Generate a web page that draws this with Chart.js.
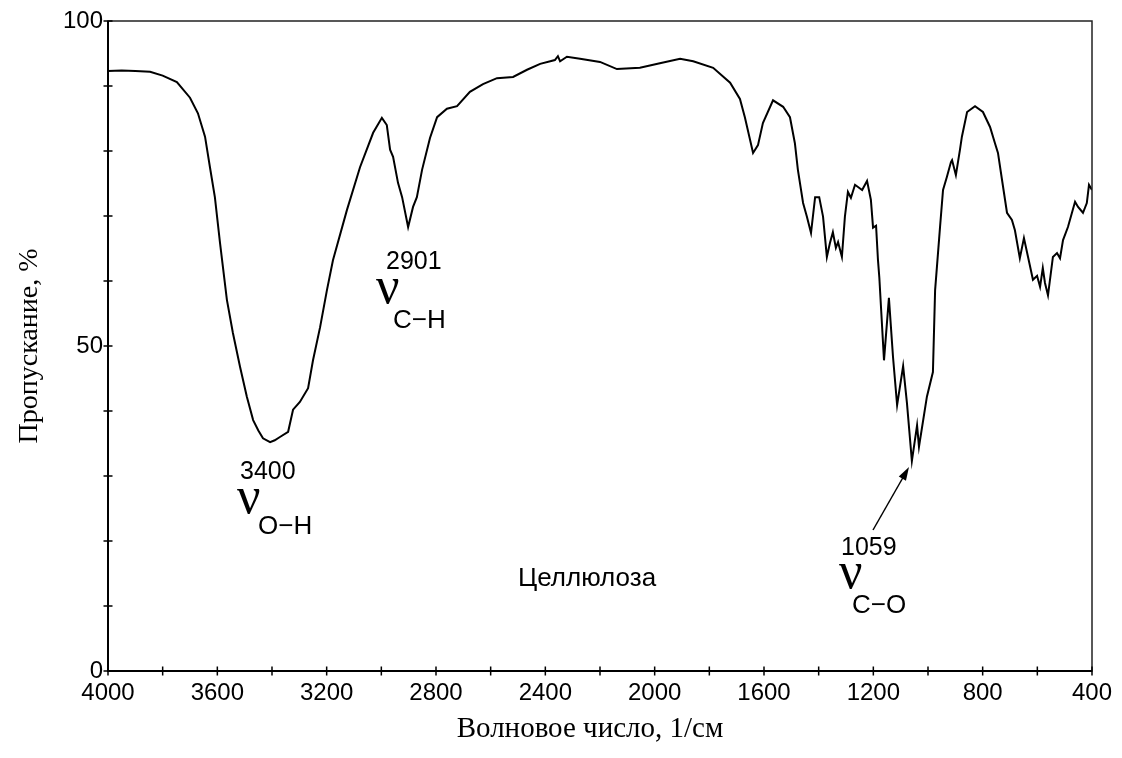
<!DOCTYPE html>
<html>
<head>
<meta charset="utf-8">
<script src="https://cdn.jsdelivr.net/npm/chart.js@4.4.1/dist/chart.umd.min.js"></script>
<style>
html,body{margin:0;padding:0;background:#fff;}
#wrap{width:1122px;height:758px;position:relative;}
</style>
</head>
<body>
<div id="wrap"><canvas id="c" width="1122" height="758"></canvas></div>
<script>
// Wavenumbers (1/cm)
const wavenumbers = [4000,3950,3900,3846,3800,3748,3700,3671,3645,3627,3609,3590,3565,3543,3517,3492,3469,3450,3433,3407,3390,3371,3341,3323,3298,3268,3250,3224,3199,3177,3126,3078,3030,2998,2980,2968,2957,2939,2924,2902,2884,2870,2851,2822,2796,2760,2723,2676,2628,2577,2518,2467,2419,2365,2354,2346,2321,2273,2200,2138,2054,1981,1907,1859,1786,1724,1688,1670,1640,1622,1604,1567,1530,1505,1487,1476,1457,1443,1428,1413,1398,1384,1370,1359,1348,1337,1329,1315,1304,1293,1282,1267,1241,1223,1209,1201,1190,1183,1178,1172,1161,1143,1128,1113,1091,1077,1059,1040,1033,1004,982,974,956,945,931,916,912,898,883,876,857,828,799,773,755,744,729,711,693,682,664,649,634,616,601,590,580,572,561,543,528,517,506,488,462,451,433,419,411,400];
// Transmittance (%)
const transmittance = [92.3,92.4,92.3,92.2,91.6,90.6,88.2,85.8,82.2,77.5,72.9,65.8,57.1,52.0,46.8,42.2,38.6,37.0,35.8,35.2,35.5,36.0,36.8,40.2,41.4,43.5,47.8,52.9,58.6,63.2,70.9,77.5,82.8,85.1,84.0,80.2,79.1,75.1,72.9,68.3,71.4,72.9,77.1,82.0,85.2,86.5,86.9,89.1,90.3,91.2,91.4,92.5,93.4,94.0,94.6,93.8,94.5,94.2,93.7,92.6,92.8,93.5,94.2,93.8,92.8,90.5,88.0,85.2,79.7,80.9,84.3,87.8,86.8,85.2,81.2,77.1,72.0,69.9,67.4,72.9,72.9,69.9,63.7,65.8,67.5,65.1,66.0,63.7,69.9,73.7,72.8,74.8,74.0,75.4,72.5,68.2,68.5,63.2,60.5,56.0,47.8,57.4,48.3,40.9,46.9,41.2,32.3,37.8,34.5,42.2,46.0,58.6,68.3,74.0,76.0,78.3,78.6,76.3,80.2,82.2,86.0,86.9,86.0,83.7,81.2,79.7,75.5,70.5,69.4,67.8,63.5,66.6,63.7,60.2,60.8,59.1,62.0,59.7,57.8,63.7,64.3,63.5,66.3,68.3,72.2,71.4,70.5,72.0,74.8,74.0];
const xTickLabels = [4000,3600,3200,2800,2400,2000,1600,1200,800,400];
const yTickLabels = [0,50,100];
const xTitle = 'Волновое число, 1/см';
const yTitle = 'Пропускание, %';
const sampleName = 'Целлюлоза';
const peaks = [
  {num:'3400', sub:'O\u2212H'},
  {num:'2901', sub:'C\u2212H'},
  {num:'1059', sub:'C\u2212O'}
];

const points = wavenumbers.map((w,i)=>({x:w,y:transmittance[i]}));
const SANS = '"Liberation Sans", Arial, sans-serif';
const SERIF = '"Liberation Serif", "Times New Roman", serif';

const decor = {
  id:'decor',
  afterDraw(chart){
    const ctx = chart.ctx, a = chart.chartArea;
    const xs = chart.scales.x, ys = chart.scales.y;
    ctx.save();
    // frame
    ctx.strokeStyle = '#222'; ctx.lineWidth = 1.5;
    ctx.strokeRect(a.left, a.top, a.right-a.left, a.bottom-a.top);
    ctx.strokeStyle = '#000'; ctx.lineWidth = 2;
    ctx.beginPath();
    ctx.moveTo(a.left, a.top); ctx.lineTo(a.left, a.bottom); ctx.lineTo(a.right, a.bottom);
    ctx.stroke();
    // tick marks crossing the axes
    ctx.lineWidth = 1.5;
    ctx.beginPath();
    ys.ticks.forEach(t=>{ const y = ys.getPixelForValue(t.value); ctx.moveTo(a.left-4.5,y); ctx.lineTo(a.left+4.5,y); });
    xs.ticks.forEach(t=>{ const x = xs.getPixelForValue(t.value); ctx.moveTo(x,a.bottom-4.5); ctx.lineTo(x,a.bottom+4.5); });
    ctx.stroke();
    // axis titles
    ctx.fillStyle = '#000';
    ctx.textAlign = 'center'; ctx.textBaseline = 'middle';
    ctx.font = '29px ' + SERIF;
    ctx.fillText(xTitle, 590, 729);
    ctx.save();
    ctx.font = '28px ' + SERIF;
    ctx.translate(30, 346); ctx.rotate(-Math.PI/2);
    ctx.fillText(yTitle, 0, 0);
    ctx.restore();
    // annotations
    ctx.textAlign = 'left'; ctx.textBaseline = 'alphabetic';
    const pos = [
      {nx:240, ny:479, vx:237, vy:513, sx:258, sy:534},
      {nx:386, ny:269, vx:376, vy:303, sx:393, sy:328},
      {nx:841, ny:555, vx:839, vy:588, sx:852, sy:613}
    ];
    peaks.forEach((p,i)=>{
      const q = pos[i];
      ctx.font = '25px ' + SANS; ctx.fillText(p.num, q.nx, q.ny);
      ctx.font = '52px ' + SERIF; ctx.fillText('\u03BD', q.vx, q.vy);
      ctx.font = '26px ' + SANS; ctx.fillText(p.sub, q.sx, q.sy);
    });
    ctx.font = '26px ' + SANS;
    ctx.fillText(sampleName, 518, 586);
    // arrow to the 1059 band
    const x0 = 873, y0 = 530, x1 = 909, y1 = 467;
    ctx.strokeStyle = '#000'; ctx.lineWidth = 1.5;
    ctx.beginPath(); ctx.moveTo(x0,y0); ctx.lineTo(x1-4,y1+7); ctx.stroke();
    const ang = Math.atan2(y1-y0, x1-x0);
    ctx.beginPath();
    ctx.moveTo(x1,y1);
    ctx.lineTo(x1-14*Math.cos(ang-0.3), y1-14*Math.sin(ang-0.3));
    ctx.lineTo(x1-14*Math.cos(ang+0.3), y1-14*Math.sin(ang+0.3));
    ctx.closePath(); ctx.fill();
    ctx.restore();
  }
};

new Chart(document.getElementById('c'), {
  type:'line',
  data:{datasets:[{data:points, borderColor:'#000', borderWidth:2, pointRadius:0, tension:0, fill:false}]},
  options:{
    responsive:false, animation:false,
    layout:{padding:{top:21,right:30,left:0,bottom:0}},
    plugins:{legend:{display:false}, tooltip:{enabled:false}},
    scales:{
      x:{type:'linear', reverse:true, min:400, max:4000,
         grid:{display:false, drawTicks:false}, border:{display:false},
         afterFit(s){ s.height = 87; },
         ticks:{stepSize:200, autoSkip:false, maxRotation:0, padding:8, color:'#000',
                font:{family:SANS, size:24},
                callback:v=> xTickLabels.includes(v) ? String(v) : ''}},
      y:{type:'linear', min:0, max:100,
         grid:{display:false, drawTicks:false}, border:{display:false},
         afterFit(s){ s.width = 108; },
         ticks:{stepSize:10, autoSkip:false, padding:5, color:'#000',
                font:{family:SANS, size:24},
                callback:v=> yTickLabels.includes(v) ? String(v) : ''}}
    }
  },
  plugins:[decor]
});
</script>
</body>
</html>
